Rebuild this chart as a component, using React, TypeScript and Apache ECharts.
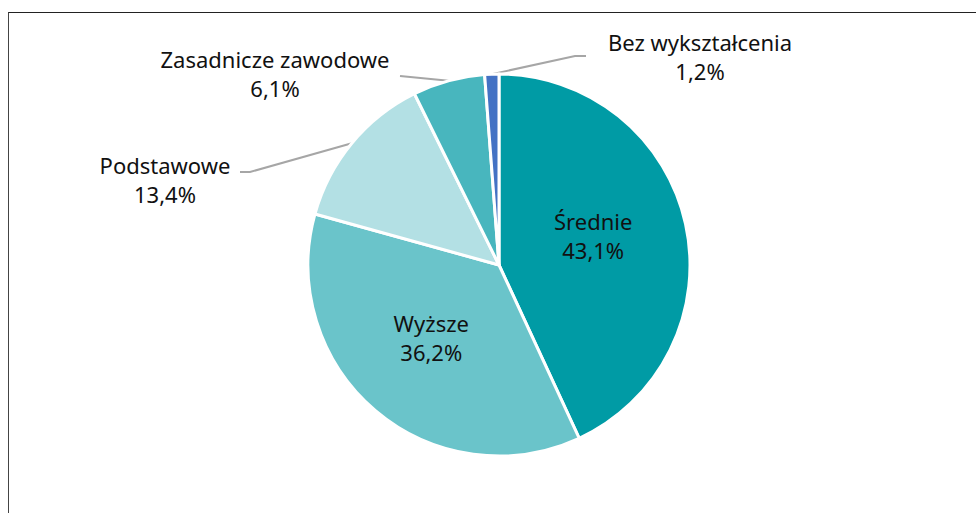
import React, { useEffect, useRef } from "react";
import * as echarts from "echarts";

const categories = ["Średnie", "Wyższe", "Podstawowe", "Zasadnicze zawodowe", "Bez wykształcenia"];
const values = [43.1, 36.2, 13.4, 6.1, 1.2];
const colors = ["#009BA5", "#6AC4CA", "#B3E0E4", "#48B6BE", "#4472C4"];
const insideLabels = [true, true, false, false, false];
const insideOffsets: Record<number, number[]> = { 0: [-2, -8], 1: [-4, -3] };

// outside label layout (label centre, leader line bend points)
const outsideLayout: Record<number, { x: number; y: number; line: number[][] }> = {
  2: { x: 165, y: 179, line: [[250, 172], [240, 172]] },
  3: { x: 275, y: 73, line: [[400, 76]] },
  4: { x: 700, y: 56, line: [[575, 56], [586, 56]] },
};

export default function App() {
  const ref = useRef<HTMLDivElement>(null);
  useEffect(() => {
    if (!ref.current) return;
    const chart = echarts.init(ref.current, null, { renderer: "svg" });
    const fmt = (v: number) => v.toFixed(1).replace(".", ",") + "%";
    chart.setOption({
      animation: false,
      series: [
        {
          type: "pie",
          center: [499, 265],
          radius: [0, 191],
          startAngle: 90,
          clockwise: true,
          avoidLabelOverlap: false,
          itemStyle: { borderColor: "#fff", borderWidth: 3 },
          label: {
            show: true,
            position: "outside",
            fontFamily: "Noto Sans",
            fontSize: 22,
            lineHeight: 29,
            color: "#111",
            align: "center",
            formatter: (p: any) => `${p.name}\n${fmt(p.value)}`,
          },
          labelLine: {
            show: true,
            length: 20,
            length2: 10,
            smooth: false,
            lineStyle: { color: "#A6A6A6", width: 2 },
          },
          labelLayout: (params: any) => {
            const o = outsideLayout[params.dataIndex];
            if (!o) return {};
            const start = params.labelLinePoints ? params.labelLinePoints[0] : [0, 0];
            return {
              x: o.x,
              y: o.y,
              align: "center",
              verticalAlign: "middle",
              labelLinePoints: [start, ...o.line],
            };
          },
          data: categories.map((name, i) => ({
            name,
            value: values[i],
            itemStyle: { color: colors[i] },
            label: insideLabels[i]
              ? { position: "inside", offset: insideOffsets[i] }
              : { position: "outside" },
            labelLine: { show: !insideLabels[i] },
          })),
        },
      ],
    });
    return () => chart.dispose();
  }, []);
  return (
    <div style={{ position: "fixed", left: 0, top: 0, width: 976, height: 513, background: "#fff" }}>
      <div
        style={{
          position: "absolute",
          left: 8,
          top: 12,
          width: 1000,
          height: 600,
          borderTop: "1.5px solid #222",
          borderLeft: "1.5px solid #444",
          boxSizing: "border-box",
        }}
      />
      <div ref={ref} style={{ position: "absolute", left: 0, top: 0, width: 976, height: 513 }} />
    </div>
  );
}
